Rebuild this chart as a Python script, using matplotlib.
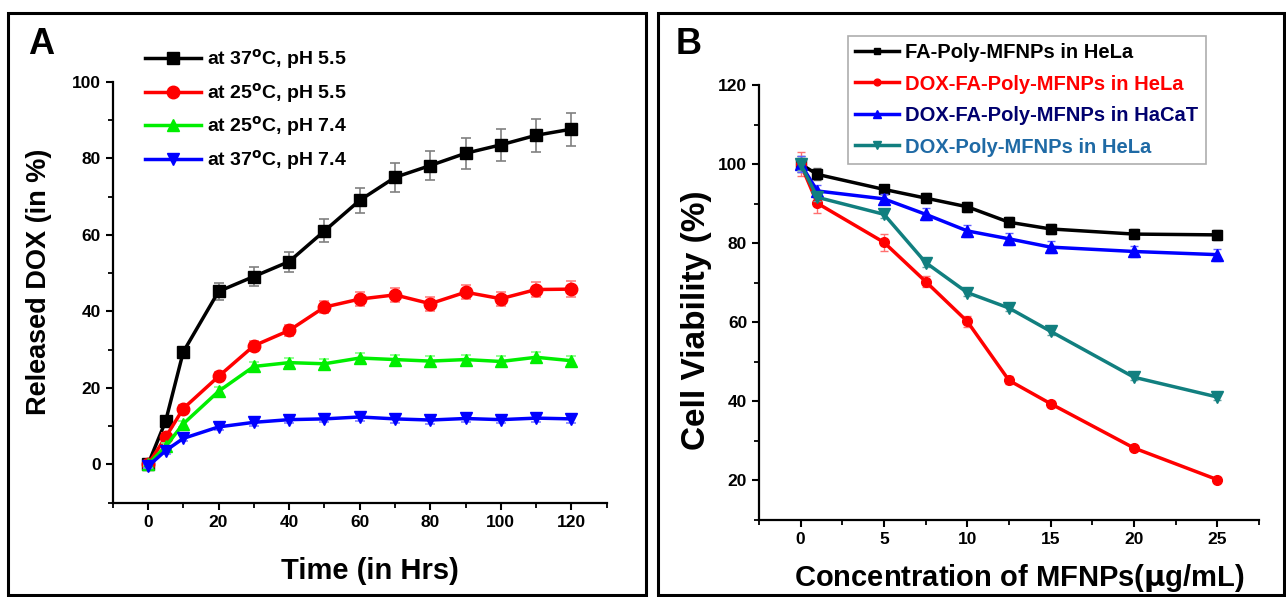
import matplotlib
matplotlib.use("Agg")
import matplotlib.pyplot as plt
from matplotlib.patches import Rectangle
from matplotlib.ticker import MultipleLocator

plt.rcParams["font.family"] = ["Liberation Sans", "DejaVu Sans"]
plt.rcParams["font.weight"] = "bold"
plt.rcParams["mathtext.default"] = "bf"

# Panel A: DOX release
time_h = [0, 5, 10, 20, 30, 40, 50, 60, 70, 80, 90, 100, 110, 120]
rel_37_55 = [0, 11.3, 29.4, 45.2, 49.1, 53.0, 61.0, 69.0, 75.0, 78.1, 81.3, 83.5, 86.0, 87.6]
err_37_55 = [0.5, 1.0, 1.0, 2.2, 2.5, 2.6, 3.0, 3.3, 3.8, 3.9, 4.0, 4.1, 4.3, 4.3]
rel_25_55 = [0, 7.1, 14.6, 23.0, 31.0, 35.0, 41.1, 43.2, 44.3, 42.0, 45.0, 43.3, 45.7, 45.8]
err_25_55 = [0.5, 1.0, 1.0, 1.2, 1.3, 1.4, 1.6, 1.8, 1.8, 1.8, 1.8, 1.8, 2.0, 2.0]
rel_25_74 = [0, 4.7, 10.6, 19.1, 25.6, 26.6, 26.3, 27.8, 27.4, 27.0, 27.4, 26.9, 28.0, 27.1]
err_25_74 = [0.5, 0.8, 0.8, 1.0, 1.2, 1.2, 1.2, 1.3, 1.3, 1.3, 1.3, 1.3, 1.3, 1.3]
rel_37_74 = [-0.5, 3.6, 6.8, 9.8, 11.0, 11.7, 11.9, 12.4, 11.9, 11.6, 12.0, 11.7, 12.1, 11.9]
err_37_74 = [0.5, 0.8, 0.8, 0.8, 0.9, 0.9, 0.9, 1.0, 1.0, 1.0, 1.0, 1.0, 1.0, 1.0]
labels_a = [r"at 37$^{\mathbf{o}}$C, pH 5.5", r"at 25$^{\mathbf{o}}$C, pH 5.5",
            r"at 25$^{\mathbf{o}}$C, pH 7.4", r"at 37$^{\mathbf{o}}$C, pH 7.4"]

# Panel B: cell viability
conc = [0, 1, 5, 7.5, 10, 12.5, 15, 20, 25]
via_fa_hela = [100, 97.4, 93.6, 91.4, 89.2, 85.3, 83.6, 82.3, 82.1]
err_fa_hela = [2.0, 1.5, 1.2, 1.2, 1.2, 1.2, 1.2, 1.2, 1.2]
via_dox_fa_hela = [100, 90.1, 80.2, 70.3, 60.2, 45.3, 39.4, 28.2, 20.2]
err_dox_fa_hela = [3.0, 2.5, 2.2, 1.5, 1.5, 1.0, 0.8, 0.6, 0.6]
via_dox_fa_hacat = [100, 93.2, 91.2, 87.3, 83.1, 81.1, 79.0, 77.9, 77.1]
err_dox_fa_hacat = [2.0, 1.5, 1.2, 1.5, 1.5, 1.5, 1.5, 1.5, 1.5]
via_dox_hela = [100, 91.6, 87.3, 75.1, 67.5, 63.6, 57.7, 46.1, 41.1]
err_dox_hela = [1.5, 1.0, 1.0, 1.0, 0.8, 0.8, 0.8, 0.8, 0.8]
labels_b = ["FA-Poly-MFNPs in HeLa", "DOX-FA-Poly-MFNPs in HeLa",
            "DOX-FA-Poly-MFNPs in HaCaT", "DOX-Poly-MFNPs in HeLa"]

W, H = 1286, 597
fig = plt.figure(figsize=(W / 100, H / 100), dpi=100)


def fx(px):
    return px / W


def fy(py):
    return 1 - py / H


# panel borders
for x0, x1 in [(8, 646), (658, 1284)]:
    fig.patches.append(Rectangle((fx(x0), fy(595)), fx(x1 - x0), (595 - 13) / H,
                                 transform=fig.transFigure, fill=False,
                                 edgecolor="black", linewidth=2.2))


def style_axes(ax):
    for s in ["top", "right"]:
        ax.spines[s].set_visible(False)
    for s in ["left", "bottom"]:
        ax.spines[s].set_linewidth(1.6)
    ax.tick_params(which="major", direction="out", length=5, width=1.5, labelsize=12.5)
    ax.tick_params(which="minor", direction="out", length=3.5, width=1.3)


axA = fig.add_axes([fx(112.7), fy(502.7), fx(606.7 - 112.7), (502.7 - 81.7) / H])
style_axes(axA)
series_a = [
    (rel_37_55, err_37_55, "black", "#808080", "s", 8),
    (rel_25_55, err_25_55, "#ff0000", "#ff8080", "o", 9),
    (rel_25_74, err_25_74, "#00ee00", "#80ff80", "^", 9),
    (rel_37_74, err_37_74, "#0000ff", "#8080ff", "v", 9),
]
for (y, e, c, ec, m, ms), lab in zip(series_a, labels_a):
    axA.errorbar(time_h, y, yerr=e, fmt="none", ecolor=ec, elinewidth=1.2,
                 capsize=3.5, capthick=1.2)
    axA.plot(time_h, y, color=c, marker=m, markersize=ms, linewidth=2.5, label=lab)
axA.set_xlim(-10, 130)
axA.set_ylim(-10, 100)
axA.xaxis.set_major_locator(MultipleLocator(20))
axA.xaxis.set_minor_locator(MultipleLocator(10))
axA.yaxis.set_major_locator(MultipleLocator(20))
axA.yaxis.set_minor_locator(MultipleLocator(10))
axA.set_xlabel("Time (in Hrs)", fontsize=21, fontweight="bold")
axA.set_ylabel("Released DOX (in %)", fontsize=19.5, fontweight="bold")
axA.xaxis.set_label_coords(0.52, -0.13)
axA.yaxis.set_label_coords(-0.123, 0.524)
axA.legend(loc="upper left", bbox_to_anchor=(fx(145), fy(47)),
           bbox_transform=fig.transFigure, frameon=False, fontsize=14,
           handlelength=2.9, handletextpad=0.3, labelspacing=0.5,
           borderaxespad=0, borderpad=0)
fig.text(fx(28), fy(45), "A", fontsize=26, fontweight="bold", va="center", ha="left")

axB = fig.add_axes([fx(759), fy(520), fx(1259 - 759), (520 - 85) / H])
style_axes(axB)
series_b = [
    (via_fa_hela, err_fa_hela, "black", "#606060", "s", 7),
    (via_dox_fa_hela, err_dox_fa_hela, "#ff0000", "#ff7070", "o", 7),
    (via_dox_fa_hacat, err_dox_fa_hacat, "#0000ff", "#6060ff", "^", 8),
    (via_dox_hela, err_dox_hela, "#117f7f", "#60a0a0", "v", 8),
]
for (y, e, c, ec, m, ms), lab in zip(series_b, labels_b):
    axB.errorbar(conc, y, yerr=e, fmt="none", ecolor=ec, elinewidth=1.0,
                 capsize=3, capthick=1.0)
    axB.plot(conc, y, color=c, marker=m, markersize=ms, linewidth=2.5, label=lab)
axB.set_xlim(-2.5, 27.5)
axB.set_ylim(10, 120)
axB.xaxis.set_major_locator(MultipleLocator(5))
axB.xaxis.set_minor_locator(MultipleLocator(2.5))
axB.yaxis.set_major_locator(MultipleLocator(20))
axB.yaxis.set_minor_locator(MultipleLocator(10))
axB.set_xlabel(r"Concentration of MFNPs($\mathbf{\mu}$g/mL)", fontsize=21, fontweight="bold")
axB.set_ylabel("Cell Viability (%)", fontsize=24, fontweight="bold")
axB.xaxis.set_label_coords(0.52, -0.097)
axB.yaxis.set_label_coords(-0.094, 0.46)
legB = axB.legend(loc="upper left", bbox_to_anchor=(fx(848), fy(36)),
                  bbox_transform=fig.transFigure, frameon=True, fancybox=False,
                  edgecolor="#999999", fontsize=14.5, handlelength=2.2,
                  handletextpad=0.3, labelspacing=0.62, borderaxespad=0,
                  borderpad=0.35, markerscale=0.7)
legB.get_frame().set_linewidth(1.2)
for t, c in zip(legB.get_texts(), ["black", "#ff0000", "#00006e", "#1f6aa5"]):
    t.set_color(c)
fig.text(fx(676), fy(45), "B", fontsize=26, fontweight="bold", va="center", ha="left")

fig.savefig("out.png", dpi=100)
